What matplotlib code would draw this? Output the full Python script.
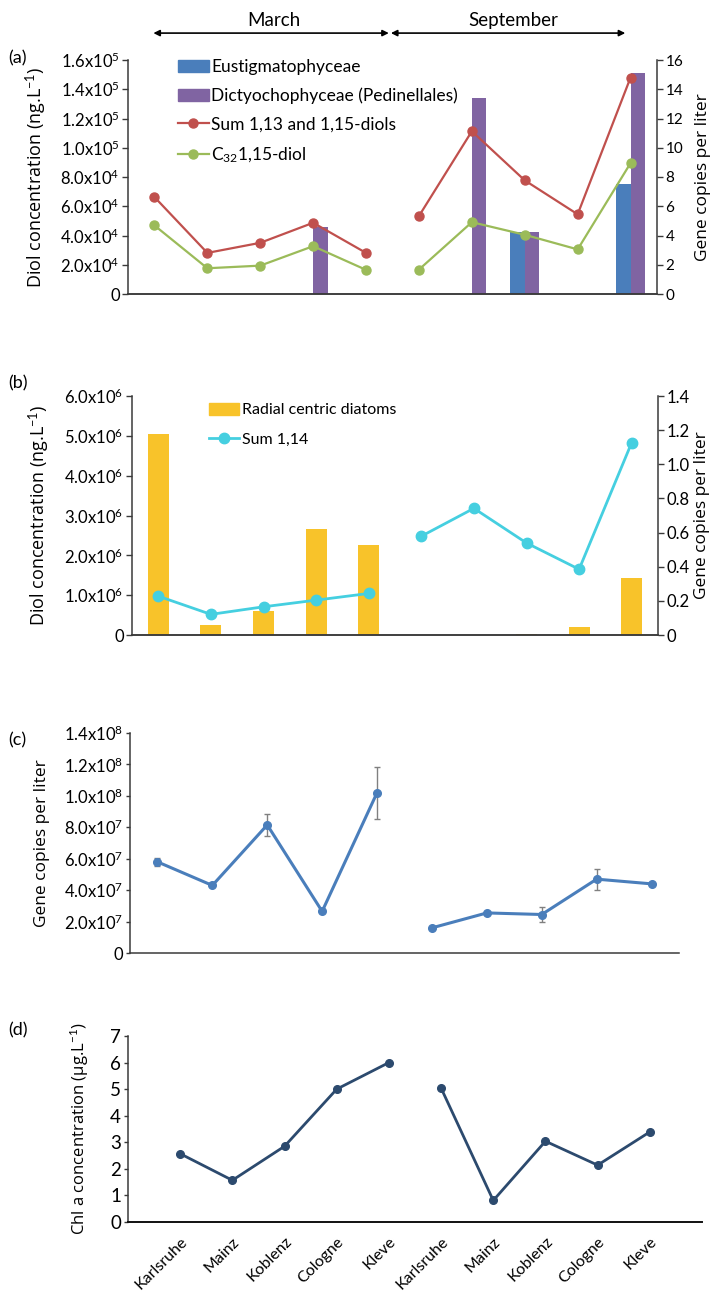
import matplotlib
matplotlib.use('Agg')
import matplotlib.pyplot as plt
from matplotlib.patches import Patch
from matplotlib.lines import Line2D
import numpy as np

plt.rcParams['font.family'] = ['Lato', 'DejaVu Sans']
plt.rcParams['mathtext.fontset'] = 'custom'
plt.rcParams['mathtext.rm'] = 'Lato'
plt.rcParams['mathtext.it'] = 'Lato:italic'
plt.rcParams['mathtext.bf'] = 'Lato:bold'

# ---- data ----
sites = ['Karlsruhe', 'Mainz', 'Koblenz', 'Cologne', 'Kleve']
site_labels = sites + sites
months = ['March', 'September']

# (a) gene copies (right axis) and diols (left axis)
eustig = [0, 0, 0, 0, 0, 0, 0, 4.25, 0, 7.5]
dictyo = [0, 0, 0, 4.6, 0, 0, 13.4, 4.25, 0, 15.1]
sum_diols_mar = [6.63e4, 2.81e4, 3.5e4, 4.87e4, 2.81e4]
sum_diols_sep = [5.33e4, 1.113e5, 7.77e4, 5.45e4, 1.48e5]
c32_mar = [4.69e4, 1.76e4, 1.94e4, 3.27e4, 1.65e4]
c32_sep = [1.67e4, 4.91e4, 4.05e4, 3.05e4, 8.95e4]
a_left_ticks = [0, 2e4, 4e4, 6e4, 8e4, 1e5, 1.2e5, 1.4e5, 1.6e5]
a_left_labels = ['0', '2.0x10$^4$', '4.0x10$^4$', '6.0x10$^4$', '8.0x10$^4$',
                 '1.0x10$^5$', '1.2x10$^5$', '1.4x10$^5$', '1.6x10$^5$']
a_right_ticks = [0, 2, 4, 6, 8, 10, 12, 14, 16]

# (b)
diatoms = [1.18, 0.059, 0.14, 0.62, 0.527, 0, 0, 0.006, 0.047, 0.334]
sum14_mar = [0.975e6, 0.518e6, 0.708e6, 0.875e6, 1.043e6]
sum14_sep = [2.48e6, 3.18e6, 2.31e6, 1.65e6, 4.83e6]
b_left_ticks = [0, 1e6, 2e6, 3e6, 4e6, 5e6, 6e6]
b_left_labels = ['0', '1.0x10$^6$', '2.0x10$^6$', '3.0x10$^6$', '4.0x10$^6$',
                 '5.0x10$^6$', '6.0x10$^6$']
b_right_ticks = [0, 0.2, 0.4, 0.6, 0.8, 1.0, 1.2, 1.4]
b_right_labels = ['0', '0.2', '0.4', '0.6', '0.8', '1.0', '1.2', '1.4']

# (c)
gene_mar = [5.8e7, 4.3e7, 8.15e7, 2.65e7, 1.02e8]
gene_sep = [1.6e7, 2.55e7, 2.45e7, 4.7e7, 4.4e7]
err_mar = [0.27e7, 0.05e7, 0.7e7, 0, 1.65e7]
err_sep = [0, 0.08e7, 0.48e7, 0.67e7, 0]
c_ticks = [0, 2e7, 4e7, 6e7, 8e7, 1e8, 1.2e8, 1.4e8]
c_labels = ['0', '2.0x10$^7$', '4.0x10$^7$', '6.0x10$^7$', '8.0x10$^7$',
            '1.0x10$^8$', '1.2x10$^8$', '1.4x10$^8$']

# (d)
chl_mar = [2.57, 1.57, 2.85, 5.0, 6.0]
chl_sep = [5.04, 0.81, 3.04, 2.14, 3.39]

# ---- style ----
blue = '#4A7EBB'
purple = '#8064A2'
red = '#C0504D'
green = '#9BBB59'
cyan = '#45CFE0'
yellow = '#F8C32A'
navy = '#2C4A6E'
spine_c = '#3a3a3a'
label_font = ['Open Sans', 'DejaVu Sans']

W, H = 715, 1297
fig = plt.figure(figsize=(W / 100, H / 100), dpi=100)


def px_axes(l, t, r, b):
    return fig.add_axes([l / W, 1 - b / H, (r - l) / W, (b - t) / H])


def style_axis(ax, right=False):
    for s in ['top', 'right', 'left', 'bottom']:
        ax.spines[s].set_visible(False)
    ax.spines['bottom'].set_visible(True)
    ax.spines['right' if right else 'left'].set_visible(True)
    for s in ax.spines.values():
        s.set_color(spine_c)
        s.set_linewidth(1.1)
    ax.tick_params(axis='x', length=0, labelbottom=False)
    ax.tick_params(axis='y', length=4, width=1, color=spine_c, pad=2)


x_mar = np.arange(5)
x_sep = np.arange(5, 10)
x_all = np.arange(10)

# ================= (a) =================
ax2a = px_axes(128, 60, 657, 294)   # bars, right axis (behind)
axa = ax2a.twinx()                  # lines, drawn on top
axa.yaxis.set_label_position('left')
ax2a.set_zorder(1)
axa.set_zorder(2)
axa.patch.set_visible(False)

w = 0.275
ax2a.bar(x_all - w / 2, eustig, width=w, color=blue)
ax2a.bar(x_all + w / 2, dictyo, width=w, color=purple)
ax2a.set_ylim(0, 16)
ax2a.set_yticks(a_right_ticks)
style_axis(ax2a, right=True)
ax2a.yaxis.tick_right()
ax2a.tick_params(axis='y', labelsize=11)
ax2a.yaxis.set_label_position('right')
ax2a.set_ylabel('Gene copies per liter', family=label_font, fontsize=12.5)
ax2a.yaxis.set_label_coords(1.071, 0.5)

for xs, ys, col in [(x_mar, sum_diols_mar, red), (x_sep, sum_diols_sep, red),
                    (x_mar, c32_mar, green), (x_sep, c32_sep, green)]:
    axa.plot(xs, ys, color=col, lw=1.6, marker='o', ms=6.5)
axa.set_xlim(-0.5, 9.5)
ax2a.set_xlim(-0.5, 9.5)
axa.set_ylim(0, 1.6e5)
axa.set_yticks(a_left_ticks, a_left_labels)
style_axis(axa)
axa.yaxis.tick_left()
axa.tick_params(axis='y', labelsize=12)
axa.set_ylabel('Diol concentration (ng.L$^{-1}$)', family=label_font, fontsize=13)
axa.yaxis.set_label_coords(-0.149, 0.5)

handles = [Patch(color=blue), Patch(color=purple),
           Line2D([], [], color=red, lw=1.6, marker='o', ms=6.5),
           Line2D([], [], color=green, lw=1.6, marker='o', ms=6.5)]
names = ['Eustigmatophyceae', 'Dictyochophyceae (Pedinellales)',
         'Sum 1,13 and 1,15-diols', 'C$_{32}$1,15-diol']
axa.legend(handles, names, loc='upper left', bbox_to_anchor=(0.094, 1.004), frameon=False,
           fontsize=12.5, handlelength=1.8, handleheight=0.75, handletextpad=0.12,
           labelspacing=0.72, borderaxespad=0, borderpad=0)

# month arrows
tr = axa.get_xaxis_transform()
arrow = dict(arrowstyle='<|-|>', color='black', lw=1.2, mutation_scale=9, shrinkA=0, shrinkB=0)
axa.annotate('', xy=(4.43, 1.115), xytext=(-0.02, 1.115), xycoords=tr, arrowprops=arrow,
             annotation_clip=False)
axa.annotate('', xy=(8.9, 1.115), xytext=(4.47, 1.115), xycoords=tr, arrowprops=arrow,
             annotation_clip=False)
axa.text(2.25, 1.17, months[0], transform=tr, ha='center', va='center', fontsize=13.5)
axa.text(6.78, 1.17, months[1], transform=tr, ha='center', va='center', fontsize=13.5)

# ================= (b) =================
ax2b = px_axes(132, 396, 658, 635)  # bars, right axis
axb = ax2b.twinx()                  # line, left axis
axb.yaxis.set_label_position('left')
ax2b.set_zorder(1)
axb.set_zorder(2)
axb.patch.set_visible(False)

ax2b.bar(x_all, diatoms, width=0.4, color=yellow)
ax2b.set_ylim(0, 1.4)
ax2b.set_yticks(b_right_ticks, b_right_labels)
style_axis(ax2b, right=True)
ax2b.yaxis.tick_right()
ax2b.tick_params(axis='y', labelsize=12)
ax2b.yaxis.set_label_position('right')
ax2b.set_ylabel('Gene copies per liter', family=label_font, fontsize=12.5)
ax2b.yaxis.set_label_coords(1.068, 0.5)

axb.plot(x_mar, sum14_mar, color=cyan, lw=2, marker='o', ms=7.5)
axb.plot(x_sep, sum14_sep, color=cyan, lw=2, marker='o', ms=7.5)
axb.set_xlim(-0.5, 9.5)
ax2b.set_xlim(-0.5, 9.5)
axb.set_ylim(0, 6e6)
axb.set_yticks(b_left_ticks, b_left_labels)
style_axis(axb)
axb.yaxis.tick_left()
axb.tick_params(axis='y', labelsize=12)
axb.set_ylabel('Diol concentration (ng.L$^{-1}$)', family=label_font, fontsize=13)
axb.yaxis.set_label_coords(-0.152, 0.5)

handles_b = [Patch(color=yellow), Line2D([], [], color=cyan, lw=2, marker='o', ms=7.5)]
axb.legend(handles_b, ['Radial centric diatoms', 'Sum 1,14'], loc='upper left',
           bbox_to_anchor=(0.146, 0.971), frameon=False, fontsize=11.5, handlelength=1.9,
           handleheight=0.75, handletextpad=0.2, labelspacing=0.95, borderaxespad=0, borderpad=0)

# ================= (c) =================
axc = px_axes(130, 733, 679, 953)
for xs, ys, es in [(x_mar, gene_mar, err_mar), (x_sep, gene_sep, err_sep)]:
    axc.errorbar(xs, ys, yerr=es, color=blue, lw=2.2, marker='o', ms=5.5,
                 ecolor='#808080', elinewidth=1, capsize=2.5, capthick=1)
axc.set_xlim(-0.5, 9.5)
axc.set_ylim(0, 1.4e8)
axc.set_yticks(c_ticks, c_labels)
style_axis(axc)
axc.tick_params(axis='y', labelsize=12, length=3)
axc.set_ylabel('Gene copies per liter', family=label_font, fontsize=12.5)
axc.yaxis.set_label_coords(-0.146, 0.5)

# ================= (d) =================
axd = px_axes(128, 1036, 702, 1222)
axd.plot(x_mar + 1, chl_mar, color=navy, lw=2, marker='o', ms=5.5)
axd.plot(x_sep + 1, chl_sep, color=navy, lw=2, marker='o', ms=5.5)
axd.set_xlim(0, 11)
axd.set_ylim(0, 7)
axd.set_yticks(range(8))
style_axis(axd)
axd.spines['bottom'].set_color('#111111')
axd.spines['bottom'].set_linewidth(1.4)
axd.tick_params(axis='y', labelsize=13.5, length=3)
axd.set_xticks(x_all + 1)
axd.set_xticklabels(site_labels, rotation=45, ha='right', va='top', rotation_mode='anchor',
                    fontsize=11.5)
axd.tick_params(axis='x', labelbottom=True, pad=9)
axd.set_ylabel('Chl a concentration (µg.L$^{-1}$)', family=label_font, fontsize=12)
axd.yaxis.set_label_coords(-0.064, 0.5)

# panel letters
for lab, yy in [('(a)', 58), ('(b)', 383), ('(c)', 740), ('(d)', 1030)]:
    fig.text(8 / W, 1 - yy / H, lab, ha='left', va='center', fontsize=13)

fig.savefig('out.png', dpi=100)
